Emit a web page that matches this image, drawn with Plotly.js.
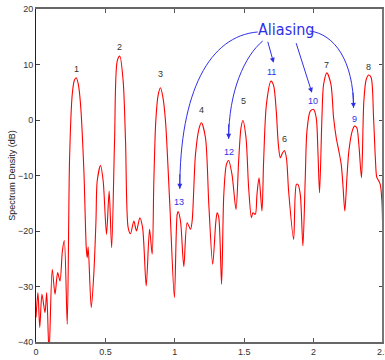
<!DOCTYPE html>
<html>
<head>
<meta charset="utf-8">
<script src="https://cdn.plot.ly/plotly-3.0.1.min.js"></script>
<style>html,body{margin:0;padding:0;background:#fff;}#chart{width:385px;height:360px;}</style>
</head>
<body>
<div id="chart"></div>
<script>
// Spectrum data
const freq = [0,0.014,0.027,0.043,0.065,0.077,0.094,0.117,0.137,0.156,0.173,0.19,0.204,0.225,0.242,0.261,0.277,0.29,0.305,0.321,0.345,0.362,0.369,0.376,0.398,0.417,0.432,0.441,0.465,0.484,0.508,0.527,0.545,0.566,0.585,0.604,0.628,0.645,0.664,0.681,0.705,0.724,0.748,0.768,0.794,0.818,0.837,0.849,0.863,0.88,0.897,0.915,0.933,0.964,0.997,1.017,1.024,1.041,1.065,1.089,1.113,1.125,1.149,1.175,1.192,1.221,1.245,1.273,1.295,1.305,1.317,1.337,1.353,1.372,1.388,1.412,1.441,1.46,1.477,1.491,1.513,1.532,1.552,1.563,1.58,1.592,1.607,1.628,1.64,1.66,1.693,1.712,1.731,1.746,1.76,1.775,1.789,1.804,1.82,1.856,1.876,1.887,1.904,1.923,1.94,1.952,1.976,2.0,2.019,2.031,2.043,2.06,2.072,2.096,2.125,2.144,2.163,2.182,2.199,2.211,2.225,2.24,2.254,2.278,2.295,2.311,2.326,2.345,2.362,2.379,2.398,2.415,2.432,2.446,2.455,2.47,2.48,2.492,2.5];
const density = [-35.6,-31.1,-37.4,-31.4,-34.7,-31.1,-42,-26.9,-31.4,-27.5,-29.0,-23.6,-21.7,-36.8,-6.8,4.6,7.2,7.6,6.4,2.8,-9.2,-23.0,-24.8,-22.9,-33.8,-27.5,-18.2,-11.0,-8.2,-11.0,-20.6,-12.8,-23.0,-3.8,10.6,11.5,7.0,-3.8,-19.4,-20.5,-18.2,-20.0,-17.6,-19.4,-29.9,-19.7,-24.2,-11.0,-0.2,4.5,5.8,4.0,-0.2,-15.2,-32.0,-17.0,-16.5,-18.2,-26.4,-18.5,-19.7,-18.2,-6.2,-1.5,-0.5,-3.2,-15.2,-26.0,-18.5,-16.7,-17.6,-29.6,-13.4,-8.0,-7.3,-9.8,-16.1,-7.4,-1.4,-0.1,-3.2,-12.2,-17.6,-16.7,-17.0,-13.4,-10.4,-16.4,-7.4,2.8,7.0,6.2,1.6,-4.4,-6.8,-6.0,-5.5,-6.8,-12.8,-21.5,-11.6,-11.6,-13.4,-22.7,-10.4,-2.0,1.6,1.9,0.4,-5.6,-13.1,0.4,6.4,8.5,6.4,0.4,-3.2,-5.6,-8.0,-11.6,-16.4,-10.4,-5.6,-2.0,-1.1,-1.4,-4.4,-10.4,3.4,7.3,8.1,7.6,0.4,-7.4,-10.3,-11.0,-11.6,-14.6,-23.6];

// Peak labels
const peakLabels = ['1','2','3','4','5','6','7','8'];
const peakX = [0.29,0.604,0.9,1.195,1.496,1.789,2.096,2.398];
const peakY = [9.2,13.2,8.3,1.8,3.4,-3.5,10.0,9.6];

// Aliased peak labels
const aliasLabels = ['13','12','11','10','9'];
const aliasX = [1.031,1.388,1.695,1.998,2.295];
const aliasY = [-14.7,-5.8,8.6,3.4,0.2];

const xTicks = [0,0.5,1,1.5,2,2.5];
const xTickText = ['0','0.5','1','1.5','2','2.5'];
const yTicks = [-40,-30,-20,-10,0,10,20];

const blue = '#2f2fe8';
const annFont = {family:'Liberation Sans, Arial, sans-serif', size:9, color:'#333'};
const annotations = [];
peakLabels.forEach((t,i)=>annotations.push({x:peakX[i],y:peakY[i],text:t,showarrow:false,font:annFont}));
aliasLabels.forEach((t,i)=>annotations.push({x:aliasX[i],y:aliasY[i],text:t,showarrow:false,font:{family:'Liberation Sans, Arial, sans-serif',size:9,color:blue}}));
annotations.push({x:1.8,y:16.3,text:'Aliasing',showarrow:false,font:{family:'Liberation Sans Narrow, DejaVu Sans Condensed, Arial, sans-serif',size:16,color:blue}});
// last x tick label, clipped by the page edge as in the reference
annotations.push({x:xTicks[5],xref:'x',y:0,yref:'paper',yanchor:'top',yshift:-3,text:xTickText[5],showarrow:false,font:{size:9,color:'#333'}});

// arrowheads (tip, tail)
const arrows = [
  [1.036,-12.4,1.036,-9.5],
  [1.388,-3.4,1.388,-0.5],
  [1.712,10.3,1.667,14.36],
  [1.988,4.9,1.871,14.11],
  [2.288,2.2,2.284,5.2]
];
arrows.forEach(a=>annotations.push({x:a[0],y:a[1],ax:a[2],ay:a[3],axref:'x',ayref:'y',xref:'x',yref:'y',text:'',showarrow:true,arrowhead:2,arrowsize:1,arrowwidth:1,arrowcolor:blue}));

const shapes = [
  {type:'path',xref:'x',yref:'y',path:'M 1.597 15.86 C 1.252 15.14 1.036 5.23 1.036 -12.4',line:{color:blue,width:1}},
  {type:'path',xref:'x',yref:'y',path:'M 1.633 14.23 C 1.504 11.53 1.388 5.23 1.388 -3.4',line:{color:blue,width:1}},
  {type:'path',xref:'x',yref:'y',path:'M 1.971 16.04 C 2.151 15.5 2.288 10.63 2.288 2.2',line:{color:blue,width:1}},
  {type:'line',xref:'paper',yref:'paper',x0:1,x1:1,y0:0,y1:1,line:{color:'#777',width:2}}
];

const trace = {x:freq,y:density,type:'scatter',mode:'lines',line:{color:'#ff0000',width:1.1,shape:'spline',smoothing:0.8},hoverinfo:'skip'};

const layout = {
  width:385,height:360,
  margin:{l:36,r:2,t:9,b:18},
  paper_bgcolor:'#fff',plot_bgcolor:'#fff',
  showlegend:false,
  font:{family:'Liberation Sans, Arial, sans-serif',size:9,color:'#333'},
  xaxis:{range:[0,2.5],tickvals:xTicks,ticktext:xTickText,ticks:'inside',ticklen:4,tickcolor:'#555',showgrid:false,zeroline:false,showline:true,linecolor:'#666',linewidth:2,mirror:'ticks',tickfont:{size:9,color:'#333'}},
  yaxis:{range:[-40,20],tickvals:yTicks,ticks:'inside',ticklen:4,tickcolor:'#444',showgrid:false,zeroline:false,showline:true,linecolor:'#222',linewidth:1,mirror:'ticks',tickfont:{size:9,color:'#333'},
    title:{text:'Spectrum Density (dB)',font:{size:9,color:'#222'},standoff:0}},
  annotations:annotations,
  shapes:shapes
};
Plotly.newPlot('chart',[trace],layout,{staticPlot:true,displayModeBar:false});
</script>
</body>
</html>
